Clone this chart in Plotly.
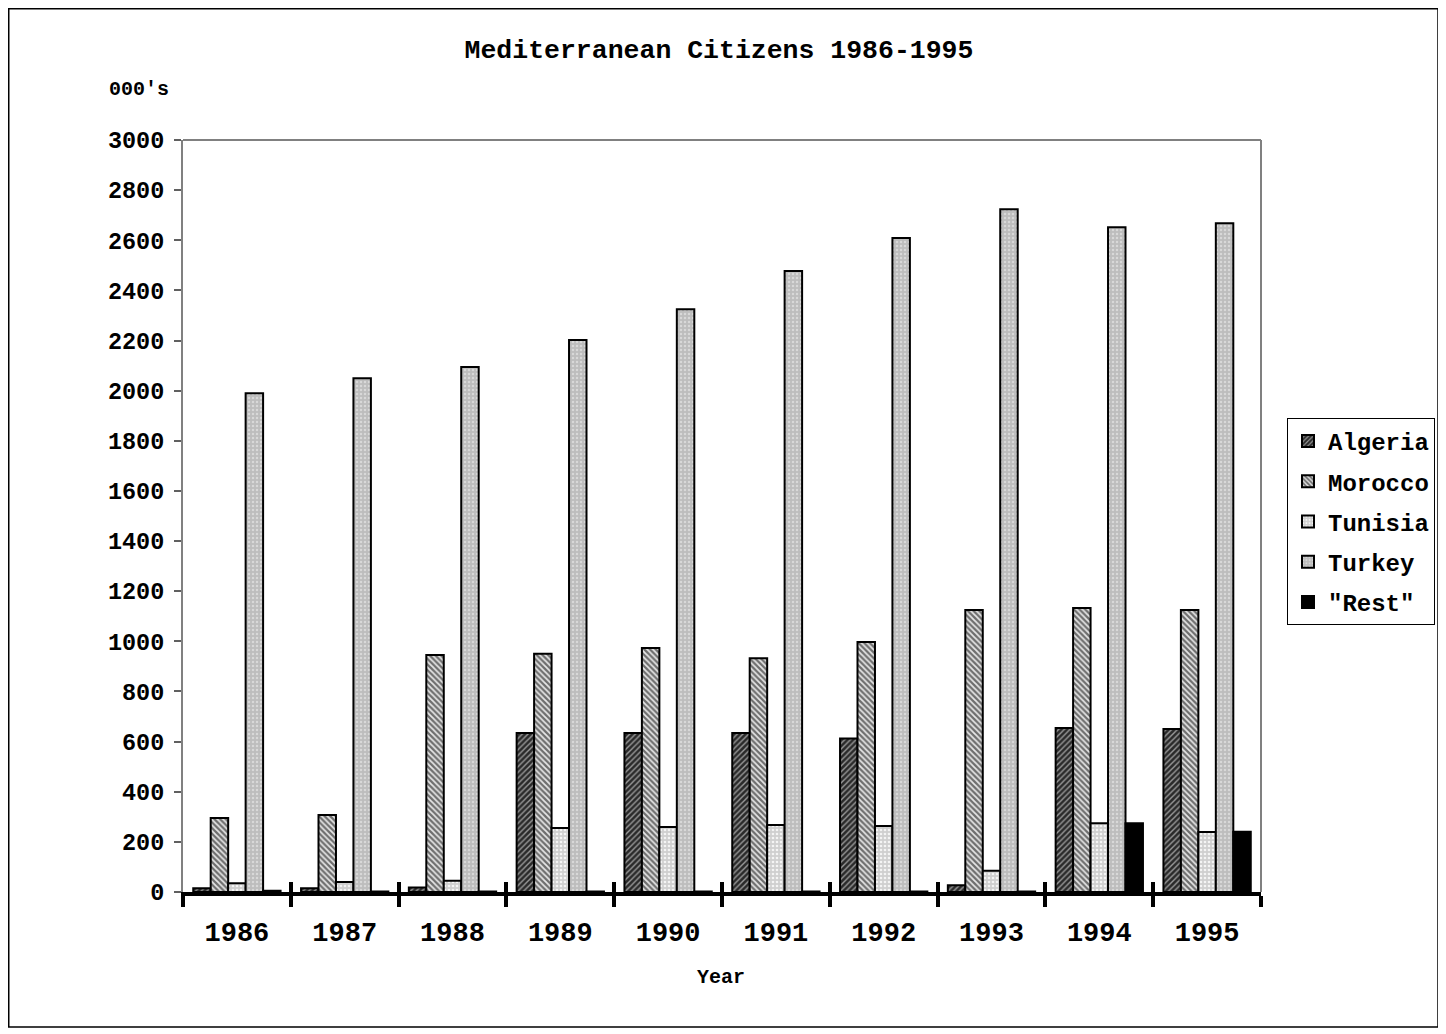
import plotly.graph_objects as go

years = ["1986", "1987", "1988", "1989", "1990", "1991", "1992", "1993", "1994", "1995"]
algeria = [15, 15, 18, 634, 634, 634, 612, 27, 654, 650]
morocco = [295, 307, 945, 950, 973, 933, 997, 1125, 1133, 1125]
tunisia = [35, 40, 45, 255, 259, 267, 263, 85, 274, 239]
turkey = [1990, 2050, 2094, 2202, 2325, 2477, 2609, 2724, 2652, 2668]
rest = [5, 2, 2, 2, 2, 2, 2, 2, 274, 240]

series = [
    ("Algeria", algeria, dict(shape="/", fgcolor="#9a9a9a", bgcolor="#2a2a2a", size=4, solidity=0.35)),
    ("Morocco", morocco, dict(shape="\\", fgcolor="#e6e6e6", bgcolor="#6e6e6e", size=4, solidity=0.45)),
    ("Tunisia", tunisia, dict(shape=".", fgcolor="#f4f4f4", bgcolor="#cfcfcf", size=4, solidity=0.35)),
    ("Turkey", turkey, dict(shape=".", fgcolor="#d8d8d8", bgcolor="#bdbdbd", size=4, solidity=0.3)),
    ('"Rest"', rest, dict(shape="", fgcolor="black", bgcolor="black")),
]

FONT = "Liberation Mono, Courier New, monospace"

fig = go.Figure()
for i, (name, vals, pat) in enumerate(series):
    marker = dict(color=pat["bgcolor"], line=dict(color="black", width=2))
    if pat["shape"]:
        marker["pattern"] = dict(shape=pat["shape"], fgcolor=pat["fgcolor"], bgcolor=pat["bgcolor"],
                                 size=pat["size"], solidity=pat["solidity"], fillmode="replace")
    fig.add_trace(go.Bar(x=years, y=vals, name=name, marker=marker, legendgroup=name))

OFF = 8  # page body margin
L, R, T, B = 183 - OFF, 1261 - OFF, 140 - OFF, 892 - OFF
W, H = 1446 - OFF, 1034 - OFF
pw, ph = R - L, B - T

def px(x):
    return (x - OFF - L) / pw

def py(y):
    return (B - (y - OFF)) / ph

fig.update_layout(
    width=W, height=H, autosize=False,
    margin=dict(l=L, r=W - R, t=T, b=H - B, autoexpand=False),
    paper_bgcolor="white", plot_bgcolor="white",
    barmode="group", bargap=0.19, bargroupgap=0,
    title=dict(text="Mediterranean Citizens 1986-1995", x=(719 - OFF) / W, xref="container", xanchor="center",
               y=1 - (49 - OFF) / H, yref="container", yanchor="middle",
               font=dict(family=FONT, size=26.5, color="black", weight="bold")),
    font=dict(family=FONT, color="black", weight="bold"),
    legend=dict(x=px(1287), y=py(418), xanchor="left", yanchor="top", xref="paper", yref="paper",
                bordercolor="black", borderwidth=1, bgcolor="white", tracegroupgap=6,
                font=dict(family=FONT, size=24, color="black", weight="bold"),
                itemsizing="constant"),
    xaxis=dict(type="category", categoryarray=years, range=[-0.5, 9.5], showline=True, linecolor="black",
               linewidth=4, ticks="outside", tickson="boundaries", ticklen=11, tickwidth=4, tickcolor="black",
               tickfont=dict(family=FONT, size=27, color="black", weight="bold"), showgrid=False,
               ticklabelstandoff=13),
    xaxis2=dict(type="category", categoryarray=years, range=[-0.5, 9.5], overlaying="x", side="bottom",
                showline=False, ticks="inside", tickson="boundaries", ticklen=10, tickwidth=4,
                tickcolor="black", showticklabels=False, showgrid=False, anchor="y"),
    yaxis=dict(range=[0, 3000], dtick=200, showline=True, linecolor="#808080", linewidth=2,
               ticks="outside", ticklen=7, tickwidth=1.5, tickcolor="#606060", showgrid=False, zeroline=False,
               tickfont=dict(family=FONT, size=23.5, color="black", weight="bold"), ticklabelstandoff=5),
    showlegend=True,
)

# invisible trace to activate xaxis2
fig.add_trace(go.Scatter(x=years, y=[0] * len(years), xaxis="x2", yaxis="y", mode="none",
                         showlegend=False, hoverinfo="skip"))

fig.add_shape(type="rect", xref="paper", yref="paper", x0=px(OFF + 0.75), x1=px(1438),
              y0=py(1027), y1=py(OFF + 0.75),
              line=dict(color="black", width=1.5), fillcolor="rgba(0,0,0,0)", layer="below")
fig.add_shape(type="line", xref="paper", yref="paper", x0=0, x1=1, y0=1, y1=1,
              line=dict(color="#808080", width=2))
fig.add_shape(type="line", xref="paper", yref="paper", x0=1, x1=1, y0=0, y1=1,
              line=dict(color="#808080", width=2))

fig.add_annotation(text="000's", xref="paper", yref="paper", x=px(107), y=py(89), xanchor="left",
                   yanchor="middle", showarrow=False, font=dict(family=FONT, size=20, color="black", weight="bold"))
fig.add_annotation(text="Year", xref="paper", yref="paper", x=px(721), y=py(977), xanchor="center",
                   yanchor="middle", showarrow=False, font=dict(family=FONT, size=20, color="black", weight="bold"))

fig.write_html("out.html")
